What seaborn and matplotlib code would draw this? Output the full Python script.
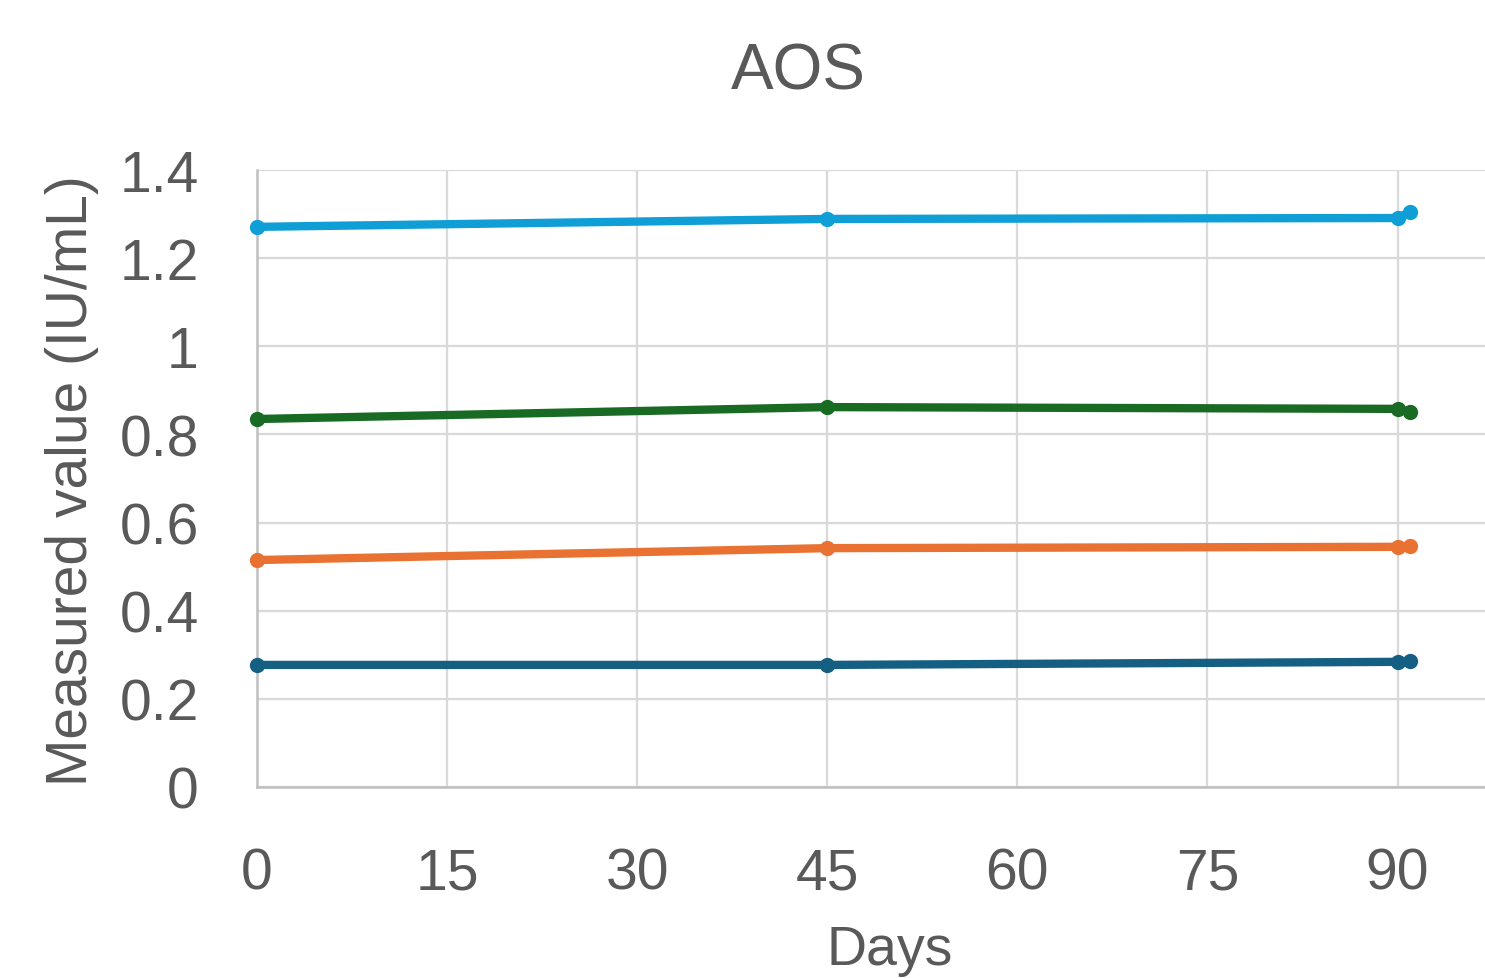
import matplotlib
matplotlib.use("Agg")
import matplotlib.pyplot as plt
import seaborn as sns
import pandas as pd

# Measured AOS values over the stability study
days = [0, 45, 90, 91]
level_high = [1.271, 1.289, 1.291, 1.305]
level_upper_mid = [0.835, 0.862, 0.858, 0.851]
level_lower_mid = [0.515, 0.542, 0.545, 0.547]
level_low = [0.277, 0.277, 0.284, 0.286]

series_names = ["High", "Upper mid", "Lower mid", "Low"]
series_values = [level_high, level_upper_mid, level_lower_mid, level_low]
series_colors = ["#0f9ed5", "#196b24", "#e97132", "#156082"]

x_ticks = [0, 15, 30, 45, 60, 75, 90]
y_ticks = [0, 0.2, 0.4, 0.6, 0.8, 1.0, 1.2, 1.4]
y_tick_labels = ["0", "0.2", "0.4", "0.6", "0.8", "1", "1.2", "1.4"]

rows = []
for name, vals in zip(series_names, series_values):
    for d, v in zip(days, vals):
        rows.append({"Days": d, "value": v, "series": name})
df = pd.DataFrame(rows)

sns.set_style("white")
plt.rcParams["font.family"] = ["Liberation Sans", "DejaVu Sans"]

text_color = "#595959"
fig = plt.figure(figsize=(14.85, 9.79), dpi=100)
ax = fig.add_axes([257 / 1485, 1 - 788 / 979, 1 - 257 / 1485, (788 - 171) / 979])

sns.lineplot(
    data=df, x="Days", y="value", hue="series",
    palette=dict(zip(series_names, series_colors)),
    marker="o", markersize=11, markeredgewidth=0,
    linewidth=6, legend=False, ax=ax, clip_on=False, zorder=3,
)

ax.set_xlim(0, 96.9)
ax.set_ylim(0, 1.4)
ax.set_xticks(x_ticks)
ax.set_yticks(y_ticks)
ax.set_yticklabels(y_tick_labels)
ax.grid(True, color="#d9d9d9", linewidth=1.6, zorder=0)
ax.set_axisbelow(True)
for side in ["top", "right"]:
    ax.spines[side].set_visible(False)
for side in ["left", "bottom"]:
    ax.spines[side].set_color("#bfbfbf")
    ax.spines[side].set_linewidth(1.8)
ax.tick_params(axis="both", length=0, labelsize=41, colors=text_color)
ax.tick_params(axis="y", pad=42)
ax.tick_params(axis="x", pad=43)
ax.set_xlabel("")
ax.set_ylabel("")

fig.text(798 / 1485, 1 - 72 / 979, "AOS", ha="center", va="center",
         fontsize=46, color=text_color)
fig.text(890 / 1485, 2 / 979, "Days", ha="center", va="bottom",
         fontsize=40, color=text_color)
fig.text(72 / 1485, 1 - 481 / 979, "Measured value (IU/mL)", ha="center",
         va="center", rotation=90, fontsize=41, color=text_color)

fig.savefig("out.png", dpi=100)
